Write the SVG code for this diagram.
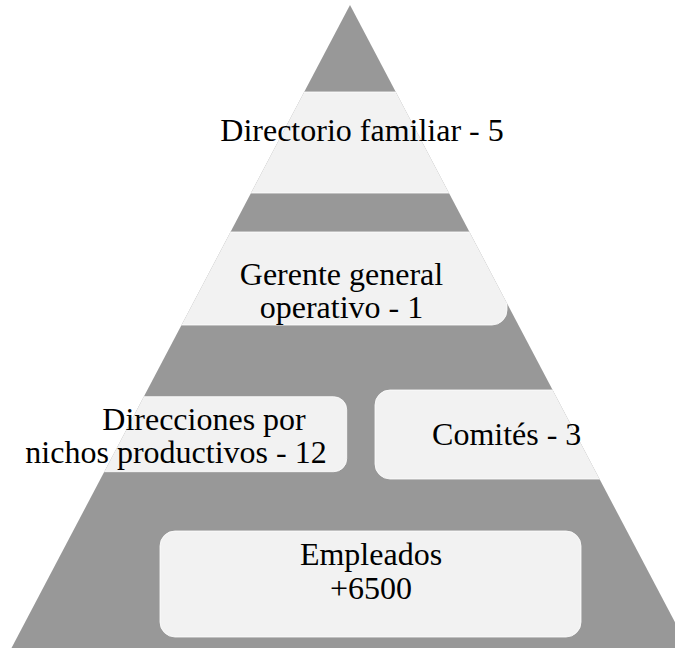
<svg xmlns="http://www.w3.org/2000/svg" width="675" height="648" viewBox="0 0 675 648">
<style>
.tri{fill:#989898}
.box{fill:#f2f2f2;stroke:#ffffff;stroke-width:0.8}
text{font-family:'Liberation Serif','Times New Roman',serif;font-size:32px;fill:#000;text-anchor:middle}
</style>
<defs>
<clipPath id="triClip"><polygon points="350,5 11.5,648 688.5,648"/></clipPath>
</defs>
<g id="pyramid">
<polygon class="tri" points="350,5 11.5,648 688.5,648"/>
</g>
<g id="level1">
<rect class="box" x="150" y="92" width="400" height="101" clip-path="url(#triClip)"/>
<text x="362" y="141">Directorio familiar - 5</text>
</g>
<g id="level2">
<rect class="box" x="100" y="232" width="407" height="93" rx="15" clip-path="url(#triClip)"/>
<text x="341.5" y="285">Gerente general</text>
<text x="341.5" y="318">operativo - 1</text>
</g>
<g id="level3a">
<rect class="box" x="60" y="396.7" width="286.7" height="75" rx="13" clip-path="url(#triClip)"/>
<text x="204" y="430">Direcciones por</text>
<text x="176" y="463">nichos productivos - 12</text>
</g>
<g id="level3b">
<rect class="box" x="375" y="390" width="260" height="89" rx="15" clip-path="url(#triClip)"/>
<text x="506.7" y="445">Comités - 3</text>
</g>
<g id="level4">
<rect class="box" x="160" y="531" width="421" height="106" rx="15"/>
<text x="371" y="565">Empleados</text>
<text x="371" y="599">+6500</text>
</g>
<g id="connectors"></g>
</svg>
